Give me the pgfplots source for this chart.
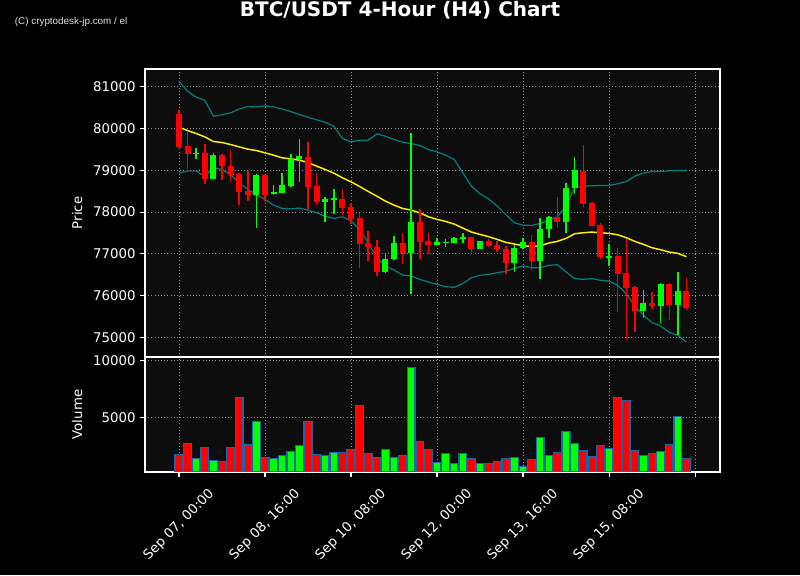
\documentclass[border=0pt]{standalone}
\usepackage{fontspec}
\setmainfont{DejaVu Sans}
\newfontfamily\wmfont{Liberation Sans}
\usepackage{pgfplots}
\usepackage{pgfplotstable}
\pgfplotsset{compat=1.18}

\definecolor{candup}{RGB}{0,255,0}
\definecolor{canddn}{RGB}{255,0,0}
\definecolor{bandcol}{RGB}{0,128,128}
\definecolor{macol}{RGB}{255,240,0}
\definecolor{voledge}{RGB}{31,100,170}
\definecolor{panel}{RGB}{13,13,13}

% candles closing up: index, open, high, low, close, volume
\pgfplotstableread{
i o h l c v
2 79388 79540 79276 79428 1403
4 78805 79420 78790 79380 1228
9 78422 78910 77624 78901 4649
11 78422 78654 78398 78470 1403
12 78454 78941 78446 78638 1667
13 78622 79396 78610 79284 2018
14 79268 79755 78733 79332 2544
17 78239 78358 77768 78318 1667
18 78310 78558 77959 78334 1930
24 76563 77025 76550 76882 2193
25 76866 77425 76850 77249 1491
27 77010 79899 76044 77752 9386
30 77209 77385 77200 77273 1053
31 77265 77361 77169 77281 1842
32 77257 77409 77250 77369 965
33 77361 77504 77265 77401 1842
35 77113 77300 77105 77297 936
39 76778 77201 76570 77145 1491
40 77129 77385 77120 77289 702
42 76826 77848 76387 77600 3246
43 77600 77903 77385 77887 1667
45 77760 78701 77488 78582 3772
46 78582 79324 78438 78997 2719
50 76914 77225 76706 76946 2281
54 75629 76124 75469 75828 1667
56 75741 76307 75350 76267 2018
58 75772 76570 75062 76100 5088
}\up

% candles closing down
\pgfplotstableread{
i o h l c v
0 80362 80457 79550 79571 1754
1 79595 79939 79021 79388 2719
3 79428 79635 78678 78805 2368
5 79380 79396 78765 79093 1140
6 79109 79500 78717 78901 2368
7 78925 78930 78175 78478 6754
8 78502 78981 78263 78422 2632
10 78901 78910 78263 78422 1491
15 79332 79691 78063 78598 4649
16 78614 78941 78159 78239 1754
19 78318 78558 77919 78095 1930
20 78111 78223 77704 77824 2193
21 77848 77967 76666 77225 6053
22 77249 77544 76826 77161 1842
23 77169 77329 76467 76563 1491
26 77249 77504 76746 77010 1667
28 77752 78079 76882 77281 2895
29 77297 77504 76986 77209 2193
34 77393 77400 77041 77113 1403
36 77297 77345 77169 77185 936
37 77201 77305 77041 77113 1140
38 77121 77185 76507 76778 1403
41 77289 77448 76610 76826 1316
44 77887 78366 77608 77760 1930
47 78997 79611 78127 78183 2105
48 78207 78239 77660 77664 1579
49 77680 77744 76882 76922 2544
51 76938 77145 75613 76507 6754
52 76531 77345 74966 76171 6491
53 76195 76227 75126 75629 2105
55 75828 76092 75685 75741 1842
57 76267 76307 75413 75772 2632
59 76100 76427 75653 75701 1403
}\down

% moving average and bands
\pgfplotstableread{
i ma up lo
0 80034 81136 78933
1 79954 80896 78981
2 79883 80753 78981
3 79803 80681 78861
4 79691 80298 79061
5 79667 80330 79021
6 79619 80378 78901
7 79563 80473 78701
8 79508 80529 78542
9 79476 80521 78422
10 79420 80545 78302
11 79364 80521 78167
12 79300 80473 78087
13 79276 80409 78079
14 79244 80338 78095
15 79188 80274 78047
16 79101 80210 77983
17 79021 80154 77903
18 78933 80058 77848
19 78821 79763 77887
20 78725 79683 77792
21 78614 79723 77584
22 78494 79723 77265
23 78382 79875 76906
24 78262 79819 76706
25 78167 79739 76610
26 78087 79675 76491
27 78047 79643 76467
28 77983 79595 76387
29 77887 79500 76323
30 77824 79444 76267
31 77776 79364 76211
32 77712 79260 76195
33 77616 78941 76283
34 77520 78622 76427
35 77464 78438 76483
36 77409 78318 76507
37 77345 78143 76547
38 77273 77936 76578
39 77233 77744 76650
40 77193 77684 76706
41 77177 77680 76666
42 77193 77728 76666
43 77257 77800 76722
44 77297 77887 76738
45 77369 78143 76563
46 77480 78582 76403
47 77504 78622 76387
48 77520 78630 76403
49 77504 78638 76363
50 77488 78638 76347
51 77456 78678 76243
52 77385 78733 76044
53 77297 78861 75748
54 77225 78933 75525
55 77145 78973 75350
56 77097 78973 75270
57 77041 78989 75110
58 77010 78997 75046
59 76930 78997 74886
}\bands

\pgfplotsset{
  chartbase/.style={
    scale only axis,
    width=431.25pt,
    xmin=-3.95, xmax=62.9,
    axis background/.style={fill=panel},
    axis line style={white, line width=0.8pt},
    tick style={white, line width=0.8pt},
    tick align=outside,
    major tick length=3.5pt,
    xtick pos=left, ytick pos=left,
    xtick={0,10,...,60},
    grid=major,
    major grid style={gray!85, dotted, line width=0.7pt},
    ticklabel style={white, font=\fontsize{10}{12}\selectfont},
    label style={white, font=\fontsize{10}{12}\selectfont},
    scaled y ticks=false,
    /pgf/number format/assume math mode=true,
    /pgf/number format/1000 sep={},
  },
  wick/.style={draw=none, fill=none, mark=none, forget plot,
    error bars/.cd, y dir=both, y explicit, error mark=none,
    error bar style={draw=#1, solid, line width=1.1pt}},
  body/.style={draw=none, fill=none, mark=none, forget plot,
    error bars/.cd, y dir=both, y explicit, error mark=none,
    error bar style={draw=#1, solid, line width=4.5pt, line cap=butt}},
}

\begin{document}
\begin{tikzpicture}
\fill[black] (0,0) rectangle (600pt,431.25pt);
\path[use as bounding box] (0,0) rectangle (600pt,431.25pt);

\node[anchor=base, white, font=\fontsize{15}{18}\selectfont\bfseries]
  at (300pt,418.5pt) {BTC/USDT 4-Hour (H4) Chart};
\node[anchor=base west, white!88!black, inner sep=0pt, font=\wmfont\fontsize{7.4}{9}\selectfont]
  at (11pt,412.5pt) {(C) cryptodesk-jp.com / el};

% price panel
\begin{axis}[chartbase,
  at={(108.75pt,163.5pt)}, anchor=south west,
  height=216pt,
  ymin=74525, ymax=81430,
  ytick={75000,76000,...,81000},
  xticklabels={},
  xtick style={draw=none},
  ylabel={Price},
  ylabel style={at={(axis description cs:-0.118,0.5)}, anchor=center},
]
\addplot[bandcol, line width=0.9pt] table[x=i, y=up] {\bands};
\addplot[bandcol, line width=0.9pt] table[x=i, y=lo] {\bands};
\addplot[macol, line width=1.1pt] table[x=i, y=ma] {\bands};

\addplot[wick=candup] table[x=i, y expr={(\thisrow{h}+\thisrow{l})/2},
  y error expr={(\thisrow{h}-\thisrow{l})/2}] {\up};
\addplot[wick=canddn] table[x=i, y expr={(\thisrow{h}+\thisrow{l})/2},
  y error expr={(\thisrow{h}-\thisrow{l})/2}] {\down};
\addplot[body=candup] table[x=i, y expr={(\thisrow{o}+\thisrow{c})/2},
  y error expr={max(abs(\thisrow{c}-\thisrow{o})/2,10)}] {\up};
\addplot[body=canddn] table[x=i, y expr={(\thisrow{o}+\thisrow{c})/2},
  y error expr={max(abs(\thisrow{c}-\thisrow{o})/2,10)}] {\down};
\end{axis}

% volume panel
\begin{axis}[chartbase,
  at={(108.75pt,77.25pt)}, anchor=south west,
  height=86.25pt,
  ymin=205, ymax=10290,
  ytick={5000,10000},
  xticklabels={{Sep 07, 00:00},{Sep 08, 16:00},{Sep 10, 08:00},{Sep 12, 00:00},{Sep 13, 16:00},{Sep 15, 08:00},{}},
  xticklabel style={yshift=-36pt, rotate=45, anchor=center},
  ylabel={Volume},
  ylabel style={at={(axis description cs:-0.118,0.5)}, anchor=center},
]
\addplot[ybar, bar width=0.9, bar shift=0pt, fill=candup, draw=voledge, line width=1pt]
  table[x=i, y=v] {\up};
\addplot[ybar, bar width=0.9, bar shift=0pt, fill=canddn, draw=voledge, line width=1pt]
  table[x=i, y=v] {\down};
\end{axis}
\end{tikzpicture}
\end{document}
